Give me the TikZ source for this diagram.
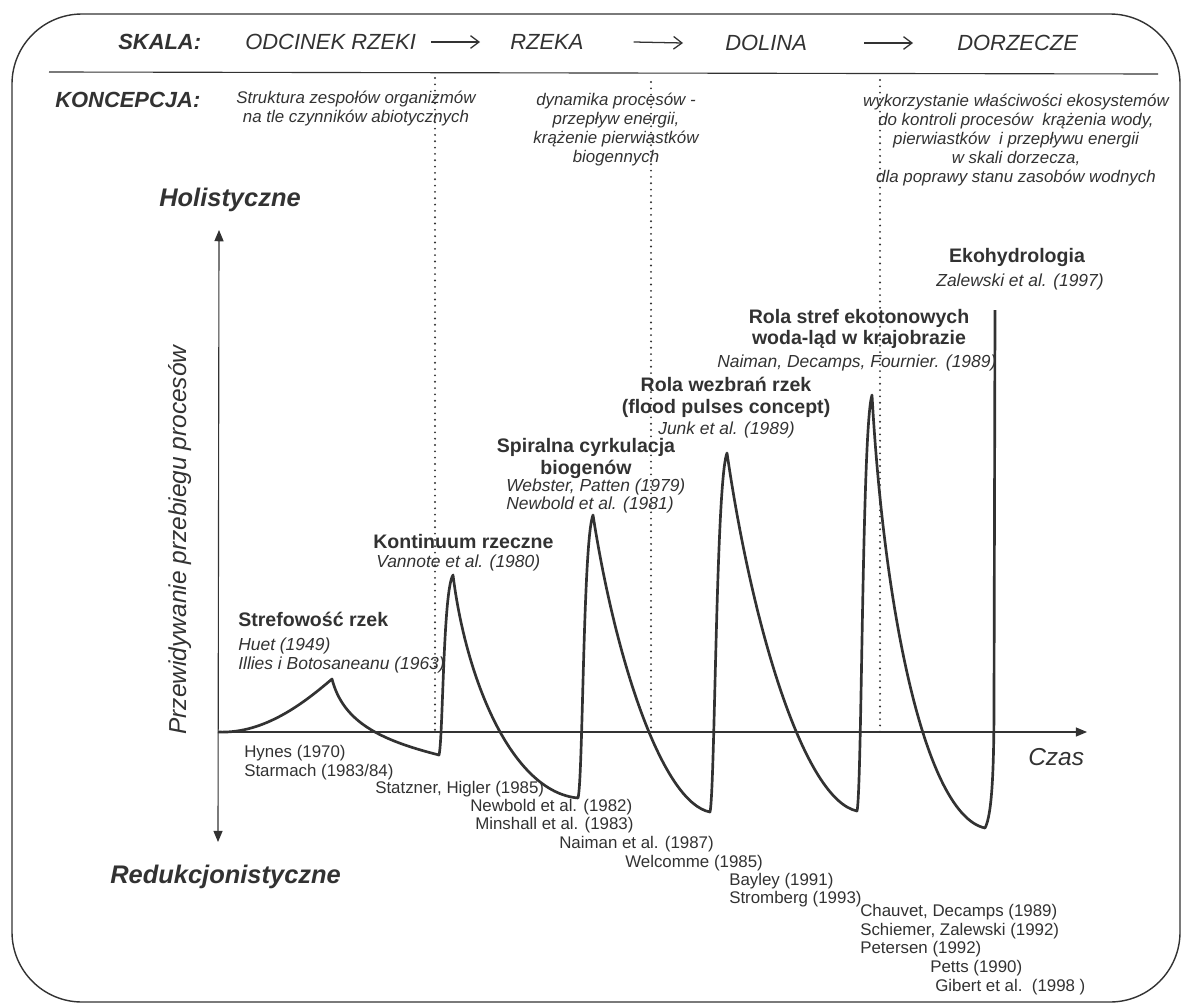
\documentclass[tikz,border=0pt]{standalone}
\usepackage{fontspec}
\setmainfont{Liberation Sans}
\usetikzlibrary{arrows.meta}

\definecolor{ink}{RGB}{50,50,50}

\tikzset{
  every node/.style={text=ink, inner sep=0pt},
  heading/.style={font=\fontsize{15.6}{18}\selectfont\itshape},
  headbold/.style={font=\fontsize{15.6}{18}\selectfont\bfseries\itshape},
  concept/.style={font=\fontsize{12}{13.5}\selectfont\itshape, align=center},
  peaktitle/.style={font=\fontsize{13.9}{15.4}\selectfont\bfseries, align=center},
  cite/.style={font=\fontsize{12.4}{13.5}\selectfont\itshape, anchor=west},
  refs/.style={font=\fontsize{12}{13}\selectfont, anchor=west},
  pole/.style={font=\fontsize{18.1}{20}\selectfont\bfseries\itshape},
  axlabel/.style={font=\fontsize{17.4}{20}\selectfont\itshape},
  divider/.style={ink, line width=1.5pt, line cap=round, dash pattern=on 0pt off 4.5pt},
  scalearrow/.style={ink, line width=0.9pt, -{Straight Barb[length=6pt,width=9pt]}},
  axis/.style={ink, line width=0.8pt},
  wave/.style={ink, line width=1.9pt, line join=round}
}

\begin{document}
\begin{tikzpicture}[x=0.025cm,y=-0.025cm]
\useasboundingbox (0,0) rectangle (1181,1005);

\draw[ink, line width=1pt, rounded corners=1.75cm] (12,14) rectangle (1180,1002);

%(skala)
\node[headbold, anchor=west] (skala) at (118,42) {SKALA:};
\node[heading, anchor=west] (odcinek) at (245,42) {ODCINEK RZEKI};
\node[heading, anchor=west] (rzeka) at (510,42) {RZEKA};
\node[heading, anchor=west] (dolina) at (725,43) {DOLINA};
\node[heading, anchor=west] (dorzecze) at (957,43) {DORZECZE};

\draw[scalearrow] ([shift={(15,0)}]odcinek.east) -- ([shift={(-30,0)}]rzeka.west);
\draw[scalearrow] ([shift={(50,0)}]rzeka.east) -- ([shift={(-42,0)}]dolina.west);
\draw[scalearrow] ([shift={(57,0)}]dolina.east) -- ([shift={(-44,0)}]dorzecze.west);

\draw[axis] (49,72) -- (1158,74);

%(koncepcja)
\node[headbold, anchor=west] (koncepcja) at (55,100) {KONCEPCJA:};
\node[concept] (struktura) at (356,108.5) {Struktura zespołów organizmów\\na tle czynników abiotycznych};
\node[concept] (dynamika) at (616,130) {dynamika procesów -\\przepływ energii,\\krążenie pierwiastków\\biogennych};
\node[concept] (ekosystemy) at (1016,140.5) {wykorzystanie właściwości ekosystemów\\do kontroli procesów\ \ krążenia wody,\\pierwiastków\ \ i przepływu energii\\w skali dorzecza,\\dla poprawy stanu zasobów wodnych};

\draw[divider] (435,78) -- (435,732);
\draw[divider] (651,82) -- (651,732);
\draw[divider] (880,80) -- (880,732);

%(axes)
\coordinate (origin) at (218,732);
\coordinate (ytop) at (219,230);
\coordinate (ybot) at (218,842);
\coordinate (xend) at (1087,732);
\draw[axis, {Triangle[length=8pt,width=6.5pt]}-{Triangle[length=8pt,width=6.5pt]}] (ybot) -- (ytop);
\draw[axis, -{Triangle[length=8pt,width=6.5pt]}] (origin) -- (xend);

\node[pole] (holist) at (230,200) {Holistyczne};
\node[pole, anchor=west] (redukc) at (110,877) {Redukcjonistyczne};
\node[axlabel, rotate=90] (prognoza) at (180,540) {Przewidywanie przebiegu procesów};
\node[axlabel, anchor=west] (czas) at (1028,757) {Czas};

%(curve)
\draw[wave] (origin) .. controls (265,734) and (305,702) .. (332,679)
  .. controls (343,722) and (380,740) .. (439,755)
  .. controls (443,740) and (443,590) .. (453,575)
  .. controls (466,680) and (512,792) .. (578,798)
  .. controls (583,780) and (583,540) .. (593,515)
  .. controls (616,663) and (663,803) .. (710,812)
  .. controls (715,790) and (716,480) .. (727,453)
  .. controls (753,632) and (805,800) .. (857,811)
  .. controls (862,790) and (862,425) .. (872,395)
  .. controls (884,611) and (925,815) .. (985,828)
  .. controls (992,815) and (994,770) .. (994,700)
  -- (995,310);

%(peaks)
\node[peaktitle, anchor=west] (strefy) at (238,619) {Strefowość rzek};
\node[cite] (huet) at (238,646) {Huet (1949)};
\node[cite] (illies) at (238,665) {Illies i Botosaneanu (1963)};

\node[peaktitle, anchor=west] (kontinuum) at (373,542) {Kontinuum rzeczne};
\node[cite] (vannote) at (376,563) {Vannote et al. (1980)};

\node[peaktitle] (spirala) at (586,458.5) {Spiralna cyrkulacja\\biogenów};
\node[cite] (webster) at (506,487) {Webster, Patten (1979)};
\node[cite] (newbold81) at (506,505) {Newbold et al. (1981)};

\node[peaktitle] (wezbrania) at (726,397.5) {Rola wezbrań rzek\\(flood pulses concept)};
\node[cite] (junk) at (658,430) {Junk et al. (1989)};

\node[peaktitle] (ekotony) at (859,329) {Rola stref ekotonowych\\woda-ląd w krajobrazie};
\node[cite] (naiman89) at (717,363) {Naiman, Decamps, Fournier. (1989)};

\node[peaktitle] (ekohydro) at (1017,257) {Ekohydrologia};
\node[cite, anchor=center] (zalewski) at (1020,282) {Zalewski et al. (1997)};

%(references)
\node[refs] (hynes) at (244,753) {Hynes (1970)};
\node[refs] (starmach) at (244,772) {Starmach (1983/84)};
\node[refs] (statzner) at (375,789) {Statzner, Higler (1985)};
\node[refs] (newbold82) at (470,807) {Newbold et al. (1982)};
\node[refs] (minshall) at (475,825) {Minshall et al. (1983)};
\node[refs] (naiman87) at (559,844) {Naiman et al. (1987)};
\node[refs] (welcomme) at (625,863) {Welcomme (1985)};
\node[refs] (bayley) at (729,881) {Bayley (1991)};
\node[refs] (stromberg) at (729,899) {Stromberg (1993)};
\node[refs] (chauvet) at (860,912) {Chauvet, Decamps (1989)};
\node[refs] (schiemer) at (860,931) {Schiemer, Zalewski (1992)};
\node[refs] (petersen) at (860,949) {Petersen (1992)};
\node[refs] (petts) at (930,968) {Petts (1990)};
\node[refs] (gibert) at (935,987) {Gibert et al.\ \ (1998 )};

\end{tikzpicture}
\end{document}
